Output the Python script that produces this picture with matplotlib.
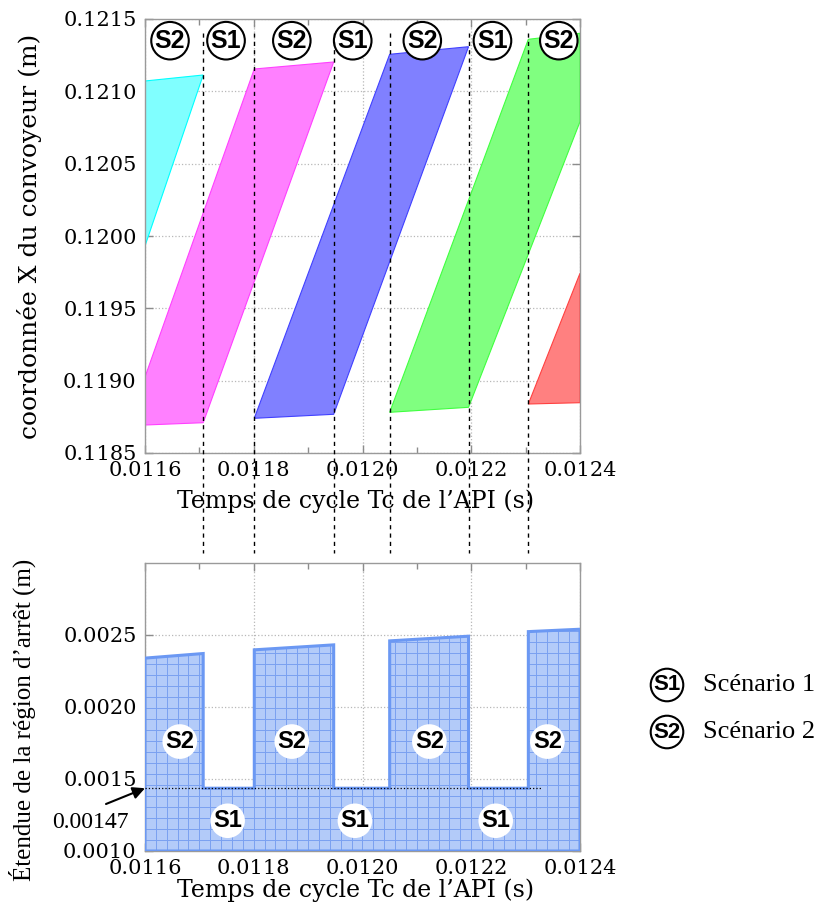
#!/usr/bin/env python3
"""Conveyor X position bands (top) and stopping-region extent (bottom) vs PLC cycle time."""

import numpy as np
import matplotlib
matplotlib.use('Agg')
import matplotlib.pyplot as plt
from matplotlib.lines import Line2D
from matplotlib.patches import Polygon
from matplotlib.ticker import FormatStrFormatter, AutoMinorLocator
from matplotlib.transforms import blended_transform_factory

# Cycle times where the scenario switches (s)
switch_t = [0.011707, 0.011801, 0.011947, 0.012050, 0.012195, 0.012305]
x_ticks = [0.0116, 0.0118, 0.0120, 0.0122, 0.0124]

# Top chart: conveyor X coordinate bands (visible vertices)
cyan_x = [0.0116, 0.011707, 0.0116]
cyan_y = [0.1210714, 0.1211129, 0.1199309]
magenta_x = [0.0116, 0.011801, 0.011947, 0.011707, 0.0116]
magenta_y = [0.1190254, 0.1211544, 0.1212028, 0.1187094, 0.1186935]
blue_x = [0.011801, 0.012050, 0.012195, 0.011947]
blue_y = [0.1187399, 0.1212560, 0.1213085, 0.1187675]
green_x = [0.012050, 0.012305, 0.0124, 0.0124, 0.012195]
green_y = [0.1187813, 0.1213597, 0.1214012, 0.1207901, 0.1188159]
red_x = [0.012305, 0.0124, 0.0124]
red_y = [0.1188387, 0.1197422, 0.1188477]
top_y_ticks = [0.1185, 0.1190, 0.1195, 0.1200, 0.1205, 0.1210, 0.1215]

top_label_x = [0.011646, 0.011749, 0.011870, 0.011982, 0.012110, 0.012239, 0.012361]
top_label_txt = ['S2', 'S1', 'S2', 'S1', 'S2', 'S1', 'S2']

# Bottom chart: stopping region extent
s2_start_x = [0.0116, 0.011801, 0.012050, 0.012305]
s2_end_x = [0.011707, 0.011947, 0.012195, 0.0124]
s2_start_h = [0.0023395, 0.0023970, 0.0024592, 0.0025235]
s2_end_h = [0.0023714, 0.0024315, 0.0024917, 0.0025401]
s1_level = 0.001436
s1_line_end = 0.01233
bot_y_ticks = [0.0010, 0.0015, 0.0020, 0.0025]

bot_s2_x = [0.011664, 0.011870, 0.012123, 0.012340]
bot_s1_x = [0.011752, 0.011986, 0.012245]
bot_s2_y = 0.00176
bot_s1_y = 0.00121

W, H = 816, 908
plt.rcParams['font.family'] = 'DejaVu Serif'


def style_axes(ax):
    ax.set_xlim(0.0116, 0.0124)
    ax.set_xticks(x_ticks)
    ax.xaxis.set_minor_locator(AutoMinorLocator(2))
    ax.xaxis.set_major_formatter(FormatStrFormatter('%.4f'))
    ax.yaxis.set_major_formatter(FormatStrFormatter('%.4f'))
    ax.tick_params(which='both', direction='in', top=True, right=True,
                   color='#8c8c8c', labelsize=15, pad=6)
    ax.tick_params(which='major', length=6, width=1)
    ax.tick_params(which='minor', length=4, width=1)
    for sp in ax.spines.values():
        sp.set_color('#9a9a9a')
        sp.set_linewidth(1)
    ax.grid(True, which='major', linestyle=':', color='#b8b8b8', linewidth=0.9)
    ax.set_axisbelow(True)


def circle_label(ax, x, y, s, edge, transform=None, size=18, pad=0.15):
    kw = {} if transform is None else {'transform': transform}
    ax.text(x, y, s, ha='center', va='center', fontsize=size, fontweight='bold',
            family='Liberation Sans', zorder=6,
            bbox=dict(boxstyle='circle,pad=%.2f' % pad, fc='white', ec=edge, lw=1.5), **kw)


fig = plt.figure(figsize=(W / 100, H / 100), dpi=100)
ax_top = fig.add_axes([145 / W, 1 - 453 / H, 435 / W, 434 / H])
ax_bot = fig.add_axes([145 / W, 1 - 851 / H, 435 / W, 288 / H])

# ---- top chart
bands = [
    (cyan_x, cyan_y, '#80ffff', '#00ffff'),
    (magenta_x, magenta_y, '#ff80ff', '#ff40ff'),
    (blue_x, blue_y, '#8080ff', '#4040ff'),
    (green_x, green_y, '#80ff80', '#40ff40'),
    (red_x, red_y, '#ff8080', '#ff4040'),
]
for xs, ys, fc, ec in bands:
    ax_top.fill(xs, ys, facecolor=fc, edgecolor=ec, linewidth=0.8, zorder=2)

style_axes(ax_top)
ax_top.set_ylim(0.1185, 0.1215)
ax_top.set_yticks(top_y_ticks)

for x, s in zip(top_label_x, top_label_txt):
    circle_label(ax_top, x, 0.12135, s, 'black', size=18, pad=0.14)

# ---- bottom chart
poly_x, poly_y = [0.0116], [0.0010]
for i in range(len(s2_start_x)):
    poly_x += [s2_start_x[i], s2_end_x[i]]
    poly_y += [s2_start_h[i], s2_end_h[i]]
    if i < len(s2_start_x) - 1:
        poly_x += [s2_end_x[i], s2_start_x[i + 1]]
        poly_y += [s1_level, s1_level]
poly_x.append(0.0124)
poly_y.append(0.0010)

area = ax_bot.fill(poly_x, poly_y, facecolor='#b3cbf9', edgecolor='none', zorder=1)[0]

# grid pattern inside the filled region
pattern_dx, pattern_dy = 0.00002, 0.0000765
for xv in np.arange(0.0116 + pattern_dx, 0.0124, pattern_dx):
    ln = ax_bot.axvline(xv, color='#7aa0f0', lw=0.7, zorder=1.5)
    ln.set_clip_path(area)
for yv in np.arange(0.0010 + pattern_dy, 0.0030, pattern_dy):
    ln = ax_bot.axhline(yv, color='#7aa0f0', lw=0.7, zorder=1.5)
    ln.set_clip_path(area)
ax_bot.add_patch(Polygon(np.column_stack([poly_x, poly_y]), closed=True,
                         facecolor='none', edgecolor='#6b98f3', linewidth=2.2, zorder=3))

ax_bot.plot([0.0116, s1_line_end], [s1_level, s1_level], color='black',
            linestyle=':', linewidth=0.9, zorder=4)

style_axes(ax_bot)
ax_bot.set_ylim(0.0010, 0.0030)
ax_bot.set_yticks(bot_y_ticks)

for x in bot_s2_x:
    circle_label(ax_bot, x, bot_s2_y, 'S2', 'none', size=17, pad=0.12)
for x in bot_s1_x:
    circle_label(ax_bot, x, bot_s1_y, 'S1', 'none', size=17, pad=0.12)

# arrow pointing at the S1 level
ax_bot.annotate('', xy=(0.0116, s1_level), xycoords='data',
                xytext=(106, H - 804), textcoords='figure pixels',
                arrowprops=dict(arrowstyle='-|>', color='black', lw=1.5,
                                mutation_scale=18, shrinkA=0, shrinkB=0),
                annotation_clip=False)
fig.text(90 / W, 1 - 822 / H, '0.00147', ha='center', va='center',
         family='Liberation Serif', fontsize=17)

# dashed switch lines running across both charts
trans = blended_transform_factory(ax_top.transData, fig.transFigure)
for t in switch_t:
    fig.add_artist(Line2D([t, t], [1 - 33 / H, 1 - 553 / H], transform=trans,
                          color='black', linewidth=1, linestyle=(0, (3, 3)), zorder=10))

# axis labels
fig.text(356 / W, 1 - 501 / H, "Temps de cycle Tc de l\u2019API (s)", ha='center',
         va='center', fontsize=17)
fig.text(356 / W, 1 - 890 / H, "Temps de cycle Tc de l\u2019API (s)", ha='center',
         va='center', fontsize=17)
fig.text(30 / W, 1 - 236 / H, 'coordonnée X du convoyeur (m)', rotation=90,
         ha='center', va='center', fontsize=18)
fig.text(22 / W, 1 - 720 / H, "Étendue de la région d\u2019arrêt (m)", rotation=90,
         ha='center', va='center', family='Liberation Serif', fontsize=18)

# legend
for yy, s, lab in [(685, 'S1', 'Scénario 1'), (732, 'S2', 'Scénario 2')]:
    circle_label(fig, 667 / W, 1 - yy / H, s, 'black', transform=fig.transFigure,
                 size=16, pad=0.12)
    fig.text(703 / W, 1 - yy / H, lab, ha='left', va='center',
             family='Liberation Serif', fontsize=19)

fig.savefig('out.png', dpi=100)
